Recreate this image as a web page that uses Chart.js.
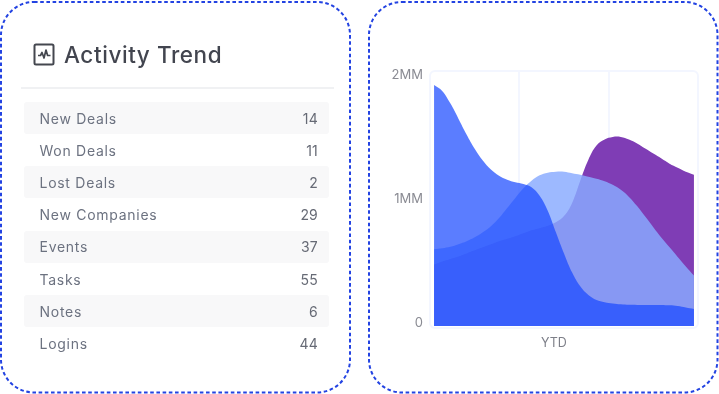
<!DOCTYPE html>
<html>
<head>
<meta charset="utf-8">
<script src="https://cdn.jsdelivr.net/npm/chart.js@4/dist/chart.umd.min.js"></script>
<style>
html,body{margin:0;padding:0;background:#fff;width:719px;height:394px;overflow:hidden;font-family:Inter,"Open Sans",sans-serif}
#cards{position:absolute;left:0;top:0}
.abs{position:absolute;filter:blur(.4px)}
#title{left:64px;top:41px;font-size:22.5px;font-weight:500;color:#42454f;letter-spacing:.58px;line-height:28px;white-space:nowrap}
#icon{left:33px;top:43px}
#divider{left:21px;top:87px;width:313px;height:2px;background:#f0f1f3}
.row{left:24px;width:305px;height:32px;border-radius:3px}
.row.odd{background:#f8f8f9}
.row span{position:absolute;top:7.5px;font-size:14px;line-height:17px;color:#6c7280;letter-spacing:.72px;white-space:nowrap}
.row .n{left:15.5px}
.row .v{right:11px;color:#666a75;letter-spacing:.2px}
#chartWrap{left:369px;top:1px;width:350px;height:392px}
</style>
</head>
<body>
<svg id="cards" width="719" height="394">
  <rect x="1" y="2" width="349" height="390.5" rx="33" fill="#fff" stroke="#2343e2" stroke-width="2" stroke-dasharray="3.6 2.6"/>
  <rect x="369" y="2" width="348.5" height="390.5" rx="33" fill="#fff" stroke="#2343e2" stroke-width="2" stroke-dasharray="3.6 2.6"/>
</svg>
<svg class="abs" id="icon" width="22" height="23" viewBox="0 0 22 23">
  <rect x="1.5" y="1.5" width="19" height="20" rx="1.5" fill="none" stroke="#44474f" stroke-width="2"/>
  <path d="M5 12.5 H7.5 L9 9.5 L11 15 L13 7 L14.6 12.5 H17.5" fill="none" stroke="#44474f" stroke-width="1.7" stroke-linejoin="round"/>
</svg>
<div class="abs" id="title">Activity Trend</div>
<div class="abs" id="divider"></div>
<div id="rows"></div>
<div class="abs" id="chartWrap"><canvas id="c" width="350" height="392"></canvas></div>
<script>
const activityNames = ["New Deals","Won Deals","Lost Deals","New Companies","Events","Tasks","Notes","Logins"];
const activityCounts = [14,11,2,29,37,55,6,44];
const yTickValues = [0,1000,2000];
const yTickLabels = ["0","1MM","2MM"];
const xCategories = ["s01","s02","s03","s04","s05","s06","s07","s08","s09","s10","s11","s12","s13","s14","s15","s16","s17","s18","s19","s20","s21","s22","s23","s24","s25","s26","s27","s28","s29","s30","s31","s32","s33"];
const xTickLabel = "YTD";
const seriesFront = [1943,1895,1795,1672,1545,1430,1335,1262,1212,1180,1160,1145,1118,1050,930,756,585,431,320,250,210,192,182,175,171,170,170,170,170,167,162,150,138];
const seriesMiddle = [618,626,638,659,683,715,756,805,870,951,1033,1110,1171,1215,1236,1244,1244,1232,1220,1203,1187,1167,1138,1098,1041,967,882,797,711,634,557,480,407];
const seriesBack = [496,520,541,561,585,610,634,659,683,703,724,748,772,789,809,837,886,992,1171,1341,1455,1504,1524,1524,1504,1472,1431,1390,1350,1309,1276,1244,1220];

const rowsEl = document.getElementById('rows');
activityNames.forEach((name,i)=>{
  const r=document.createElement('div');
  r.className='abs row'+(i%2===0?' odd':'');
  r.style.top=(102+i*32.2)+'px';
  const a=document.createElement('span');a.className='n';a.textContent=name;
  const b=document.createElement('span');b.className='v';b.textContent=activityCounts[i];
  r.append(a,b);rowsEl.append(r);
});

const framePlugin={
  id:'frame',
  beforeDatasetsDraw(chart){
    const {ctx,chartArea:a}=chart;
    ctx.save();
    ctx.strokeStyle='#f3f6ff';
    ctx.lineWidth=2;
    ctx.beginPath();
    ctx.roundRect(a.left,a.top,a.right-a.left,a.bottom-a.top+2,5);
    ctx.stroke();
    ctx.restore();
  }
};

function area(data,color){
  return {data,backgroundColor:color,borderWidth:0,pointRadius:0,fill:'origin',tension:0.4};
}
new Chart(document.getElementById('c'),{
  type:'line',
  plugins:[framePlugin],
  data:{
    labels:xCategories,
    datasets:[
      area(seriesFront,'rgba(24,72,255,0.71)'),
      area(seriesMiddle,'rgba(137,171,255,0.83)'),
      area(seriesBack,'#7f3db5')
    ]
  },
  options:{
    responsive:false,
    animation:false,
    layout:{padding:{top:70,right:21,left:0,bottom:0}},
    plugins:{legend:{display:false},tooltip:{enabled:false}},
    scales:{
      x:{
        type:'category',
        offset:true,
        border:{display:false},
        grid:{offset:true,drawTicks:false,lineWidth:2,
          color:c=>(c.index===11||c.index===22)?'#f3f6ff':'rgba(0,0,0,0)'},
        ticks:{autoSkip:false,maxRotation:0,minRotation:0,padding:10,labelOffset:-2,
          color:'#7d7f88',font:{family:'Inter',size:12.5},
          callback:(v,i)=>i===15?xTickLabel:''},
        afterFit(s){s.height=67;}
      },
      y:{
        min:0,max:2056,
        border:{display:false},
        grid:{display:false},
        afterBuildTicks(s){s.ticks=yTickValues.map(value=>({value}));},
        ticks:{padding:-1,labelOffset:-3,color:'#8a8b93',font:{family:'Inter',size:13},
          callback:(v)=>yTickLabels[yTickValues.indexOf(v)]},
        afterFit(s){s.width=61;}
      }
    }
  }
});
</script>
</body>
</html>
